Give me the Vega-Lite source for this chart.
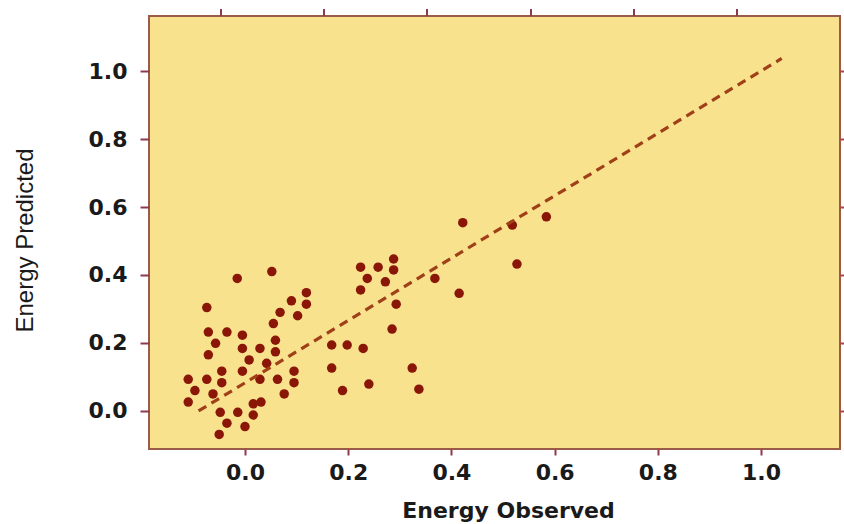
{
  "$schema": "https://vega.github.io/schema/vega-lite/v6.json",
  "width": 691,
  "height": 433,
  "autosize": {"type": "none"},
  "padding": {"left": 149, "top": 16, "right": 4, "bottom": 75},
  "background": "white",
  "config": {
    "view": {"fill": "#f8e28e", "stroke": "#9a5c48", "strokeWidth": 2},
    "axis": {"grid": false, "domain": false}
  },
  "datasets": {
    "points": [
      {"observed": -0.015, "predicted": 0.390},
      {"observed": 0.052, "predicted": 0.410},
      {"observed": 0.119, "predicted": 0.348},
      {"observed": 0.090, "predicted": 0.324},
      {"observed": 0.119, "predicted": 0.314},
      {"observed": -0.074, "predicted": 0.304},
      {"observed": 0.068, "predicted": 0.290},
      {"observed": 0.102, "predicted": 0.280},
      {"observed": 0.055, "predicted": 0.257},
      {"observed": -0.071, "predicted": 0.232},
      {"observed": -0.035, "predicted": 0.232},
      {"observed": -0.005, "predicted": 0.223},
      {"observed": 0.059, "predicted": 0.208},
      {"observed": -0.057, "predicted": 0.199},
      {"observed": -0.005, "predicted": 0.184},
      {"observed": 0.029, "predicted": 0.184},
      {"observed": 0.059, "predicted": 0.174},
      {"observed": -0.071, "predicted": 0.165},
      {"observed": 0.008, "predicted": 0.150},
      {"observed": 0.042, "predicted": 0.140},
      {"observed": -0.045, "predicted": 0.117},
      {"observed": -0.005, "predicted": 0.117},
      {"observed": 0.095, "predicted": 0.117},
      {"observed": -0.110, "predicted": 0.093},
      {"observed": -0.074, "predicted": 0.093},
      {"observed": -0.045, "predicted": 0.083},
      {"observed": 0.029, "predicted": 0.093},
      {"observed": 0.063, "predicted": 0.093},
      {"observed": 0.095, "predicted": 0.083},
      {"observed": -0.097, "predicted": 0.060},
      {"observed": -0.062, "predicted": 0.050},
      {"observed": 0.076, "predicted": 0.050},
      {"observed": -0.110, "predicted": 0.026},
      {"observed": 0.016, "predicted": 0.021},
      {"observed": 0.031, "predicted": 0.026},
      {"observed": -0.048, "predicted": -0.004},
      {"observed": -0.014, "predicted": -0.004},
      {"observed": 0.016, "predicted": -0.012},
      {"observed": -0.035, "predicted": -0.036},
      {"observed": 0.000, "predicted": -0.046},
      {"observed": -0.050, "predicted": -0.069},
      {"observed": 0.422, "predicted": 0.554},
      {"observed": 0.518, "predicted": 0.547},
      {"observed": 0.584, "predicted": 0.571},
      {"observed": 0.527, "predicted": 0.432},
      {"observed": 0.288, "predicted": 0.447},
      {"observed": 0.224, "predicted": 0.423},
      {"observed": 0.258, "predicted": 0.423},
      {"observed": 0.288, "predicted": 0.415},
      {"observed": 0.237, "predicted": 0.390},
      {"observed": 0.272, "predicted": 0.380},
      {"observed": 0.368, "predicted": 0.390},
      {"observed": 0.224, "predicted": 0.356},
      {"observed": 0.415, "predicted": 0.346},
      {"observed": 0.293, "predicted": 0.314},
      {"observed": 0.285, "predicted": 0.241},
      {"observed": 0.168, "predicted": 0.194},
      {"observed": 0.198, "predicted": 0.194},
      {"observed": 0.229, "predicted": 0.184},
      {"observed": 0.168, "predicted": 0.126},
      {"observed": 0.324, "predicted": 0.126},
      {"observed": 0.189, "predicted": 0.060},
      {"observed": 0.240, "predicted": 0.079},
      {"observed": 0.337, "predicted": 0.064}
    ],
    "fit": [
      {"observed": -0.09, "predicted": 0.0},
      {"observed": 1.04, "predicted": 1.037}
    ]
  },
  "layer": [
    {
      "data": {"name": "points"},
      "mark": {"type": "point", "filled": true, "shape": "circle", "size": 90, "color": "#8a1608", "opacity": 1},
      "encoding": {
        "x": {
          "field": "observed", "type": "quantitative",
          "scale": {"domain": [-0.186, 1.153], "nice": false, "zero": false},
          "axis": {
            "orient": "bottom", "values": [0, 0.2, 0.4, 0.6, 0.8, 1.0], "format": ".1f",
            "title": "Energy Observed",
            "titleFont": "DejaVu Sans", "titleFontSize": 22, "titleFontWeight": "bold", "titleColor": "#1a1a1a",
            "titleX": 359, "titleY": 68, "titleBaseline": "alphabetic", "titleAnchor": "middle",
            "labelFont": "DejaVu Sans", "labelFontSize": 22, "labelFontWeight": "bold", "labelColor": "#1a1a1a",
            "labelPadding": 7, "tickSize": 6, "tickWidth": 2, "tickColor": "#8e3a4a"
          }
        },
        "y": {
          "field": "predicted", "type": "quantitative",
          "scale": {"domain": [-0.112, 1.162], "nice": false, "zero": false},
          "axis": {
            "orient": "left", "values": [0, 0.2, 0.4, 0.6, 0.8, 1.0], "format": ".1f",
            "title": "Energy Predicted",
            "titleFont": "Liberation Sans", "titleFontSize": 24, "titleFontWeight": "normal", "titleColor": "#1a1a1a",
            "titleX": -124, "titleY": 224, "titleAngle": -90, "titleBaseline": "middle", "titleAnchor": "middle",
            "labelFont": "DejaVu Sans", "labelFontSize": 22, "labelFontWeight": "bold", "labelColor": "#1a1a1a",
            "labelPadding": 13, "tickSize": 9, "tickWidth": 2, "tickColor": "#8e3a4a"
          }
        }
      }
    },
    {
      "data": {"name": "fit"},
      "mark": {"type": "line", "color": "#a04018", "strokeWidth": 3.2, "strokeDash": [9, 6]},
      "encoding": {
        "x": {
          "field": "observed", "type": "quantitative",
          "axis": {"orient": "top", "values": [0, 0.2, 0.4, 0.6, 0.8, 1.0], "labels": false, "title": null,
                   "tickSize": 7, "tickWidth": 2, "tickColor": "#8e3a4a", "translate": -24, "offset": -24}
        },
        "y": {
          "field": "predicted", "type": "quantitative",
          "axis": {"orient": "right", "values": [0, 0.2, 0.4, 0.6, 0.8, 1.0], "labels": false, "title": null,
                   "tickSize": 5, "tickWidth": 2, "tickColor": "#b0405a"}
        }
      }
    }
  ],
  "resolve": {"axis": {"x": "independent", "y": "independent"}}
}
